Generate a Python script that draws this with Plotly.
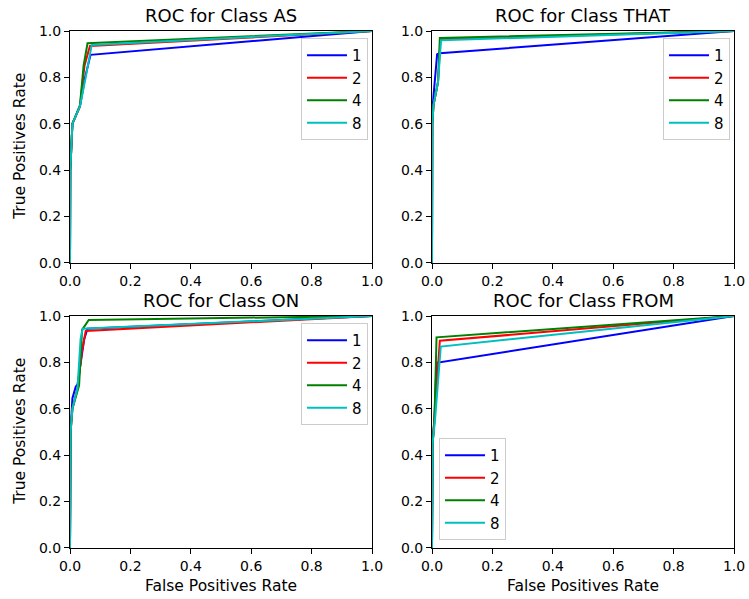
import plotly.graph_objects as go

W, H = 749, 599

models = ["1", "2", "4", "8"]
colors = ["#0000ff", "#ff0000", "#008000", "#00bfbf"]
class_names = ["AS", "THAT", "ON", "FROM"]
tick_vals = [0.0, 0.2, 0.4, 0.6, 0.8, 1.0]
tick_text = ["0.0", "0.2", "0.4", "0.6", "0.8", "1.0"]

# ROC curves per class: fpr / tpr for models 1, 2, 4, 8
as_fpr = [
    [0, 0.001, 0.008, 0.033, 0.05, 0.068, 1],
    [0, 0.001, 0.008, 0.033, 0.048, 0.066, 1],
    [0, 0.001, 0.008, 0.033, 0.045, 0.058, 1],
    [0, 0.001, 0.008, 0.033, 0.052, 0.072, 1],
]
as_tpr = [
    [0, 0.4, 0.6, 0.675, 0.8, 0.897, 1],
    [0, 0.4, 0.6, 0.675, 0.85, 0.935, 1],
    [0, 0.4, 0.6, 0.68, 0.85, 0.947, 1],
    [0, 0.4, 0.6, 0.675, 0.8, 0.94, 1],
]

that_fpr = [
    [0, 0.001, 0.005, 0.017, 0.026, 1],
    [0, 0.001, 0.005, 0.02, 0.028, 1],
    [0, 0.001, 0.005, 0.02, 0.026, 1],
    [0, 0.001, 0.005, 0.02, 0.03, 1],
]
that_tpr = [
    [0, 0.65, 0.72, 0.9, 0.904, 1],
    [0, 0.6, 0.68, 0.78, 0.965, 1],
    [0, 0.6, 0.68, 0.78, 0.97, 1],
    [0, 0.6, 0.68, 0.78, 0.96, 1],
]

on_fpr = [
    [0, 0.002, 0.008, 0.019, 0.025, 0.047, 0.058, 1],
    [0, 0.002, 0.008, 0.025, 0.04, 0.052, 1],
    [0, 0.002, 0.008, 0.03, 0.04, 0.062, 1],
    [0, 0.002, 0.008, 0.025, 0.035, 0.042, 1],
]
on_tpr = [
    [0, 0.5, 0.645, 0.695, 0.705, 0.9, 0.945, 1],
    [0, 0.5, 0.6, 0.69, 0.85, 0.935, 1],
    [0, 0.5, 0.6, 0.7, 0.94, 0.983, 1],
    [0, 0.5, 0.6, 0.69, 0.9, 0.945, 1],
]

from_fpr = [
    [0, 0.002, 0.008, 0.015, 1],
    [0, 0.002, 0.01, 0.026, 1],
    [0, 0.002, 0.008, 0.015, 1],
    [0, 0.002, 0.01, 0.029, 1],
]
from_tpr = [
    [0, 0.45, 0.55, 0.798, 1],
    [0, 0.45, 0.6, 0.893, 1],
    [0, 0.45, 0.55, 0.908, 1],
    [0, 0.45, 0.55, 0.868, 1],
]

all_fpr = [as_fpr, that_fpr, on_fpr, from_fpr]
all_tpr = [as_tpr, that_tpr, on_tpr, from_tpr]

FONT = "DejaVu Sans"

# layout geometry (pixels)
xdoms_px = [(70, 372), (432, 734), (70, 372), (432, 734)]
ydoms_px = [(31, 262.7), (31, 262.7), (316, 547.7), (316, 547.7)]


def px_x(p):
    return p / W


def px_y(p):
    return 1 - p / H


fig = go.Figure()
layout = dict(
    width=W, height=H,
    margin=dict(l=0, r=0, t=0, b=0, autoexpand=False),
    paper_bgcolor="white", plot_bgcolor="white",
    font=dict(family=FONT, size=14, color="black"),
    showlegend=True,
)

annotations = []
for k in range(4):
    sfx = "" if k == 0 else str(k + 1)
    for m in range(4):
        fig.add_trace(go.Scatter(
            x=all_fpr[k][m], y=all_tpr[k][m], mode="lines",
            name=models[m], line=dict(color=colors[m], width=2),
            xaxis="x" + sfx, yaxis="y" + sfx,
            legend="legend" + sfx,
        ))
    x0, x1 = xdoms_px[k]
    y0, y1 = ydoms_px[k]
    axcommon = dict(
        range=[0, 1], showgrid=False, zeroline=False, automargin=False,
        showline=True, linecolor="black", linewidth=1, mirror=True,
        ticks="outside", ticklen=5, tickwidth=1, tickcolor="black",
        tickvals=tick_vals, ticktext=tick_text,
        tickfont=dict(family=FONT, size=14, color="black"),
    )
    layout["xaxis" + sfx] = dict(axcommon, domain=[px_x(x0), px_x(x1)],
                                 anchor="y" + sfx)
    layout["yaxis" + sfx] = dict(axcommon, domain=[px_y(y1), px_y(y0)],
                                 anchor="x" + sfx)
    annotations.append(dict(
        text="ROC for Class " + class_names[k], xref="paper", yref="paper",
        x=px_x((x0 + x1) / 2), y=px_y(y0 - 15.5), xanchor="center",
        yanchor="middle", showarrow=False,
        font=dict(family=FONT, size=18, color="black"),
    ))
    if k in (0, 2):
        annotations.append(dict(
            text="True Positives Rate", xref="paper", yref="paper",
            x=px_x(20), y=px_y((y0 + y1) / 2), textangle=-90,
            xanchor="center", yanchor="middle", showarrow=False,
            font=dict(family=FONT, size=15.5, color="black"),
        ))
    if k in (2, 3):
        annotations.append(dict(
            text="False Positives Rate", xref="paper", yref="paper",
            x=px_x((x0 + x1) / 2), y=px_y(586), xanchor="center",
            yanchor="middle", showarrow=False,
            font=dict(family=FONT, size=15.5, color="black"),
        ))

leg_common = dict(
    bgcolor="rgba(255,255,255,0.8)", bordercolor="#cccccc", borderwidth=1,
    font=dict(family=FONT, size=15, color="black"), itemwidth=40,
)
layout["legend"] = dict(leg_common, x=px_x(368), y=px_y(38),
                        xanchor="right", yanchor="top")
layout["legend2"] = dict(leg_common, x=px_x(730), y=px_y(38),
                         xanchor="right", yanchor="top")
layout["legend3"] = dict(leg_common, x=px_x(368), y=px_y(323),
                         xanchor="right", yanchor="top")
layout["legend4"] = dict(leg_common, x=px_x(439), y=px_y(540),
                         xanchor="left", yanchor="bottom")
layout["annotations"] = annotations

fig.update_layout(**layout)
fig.write_html("out.html")
